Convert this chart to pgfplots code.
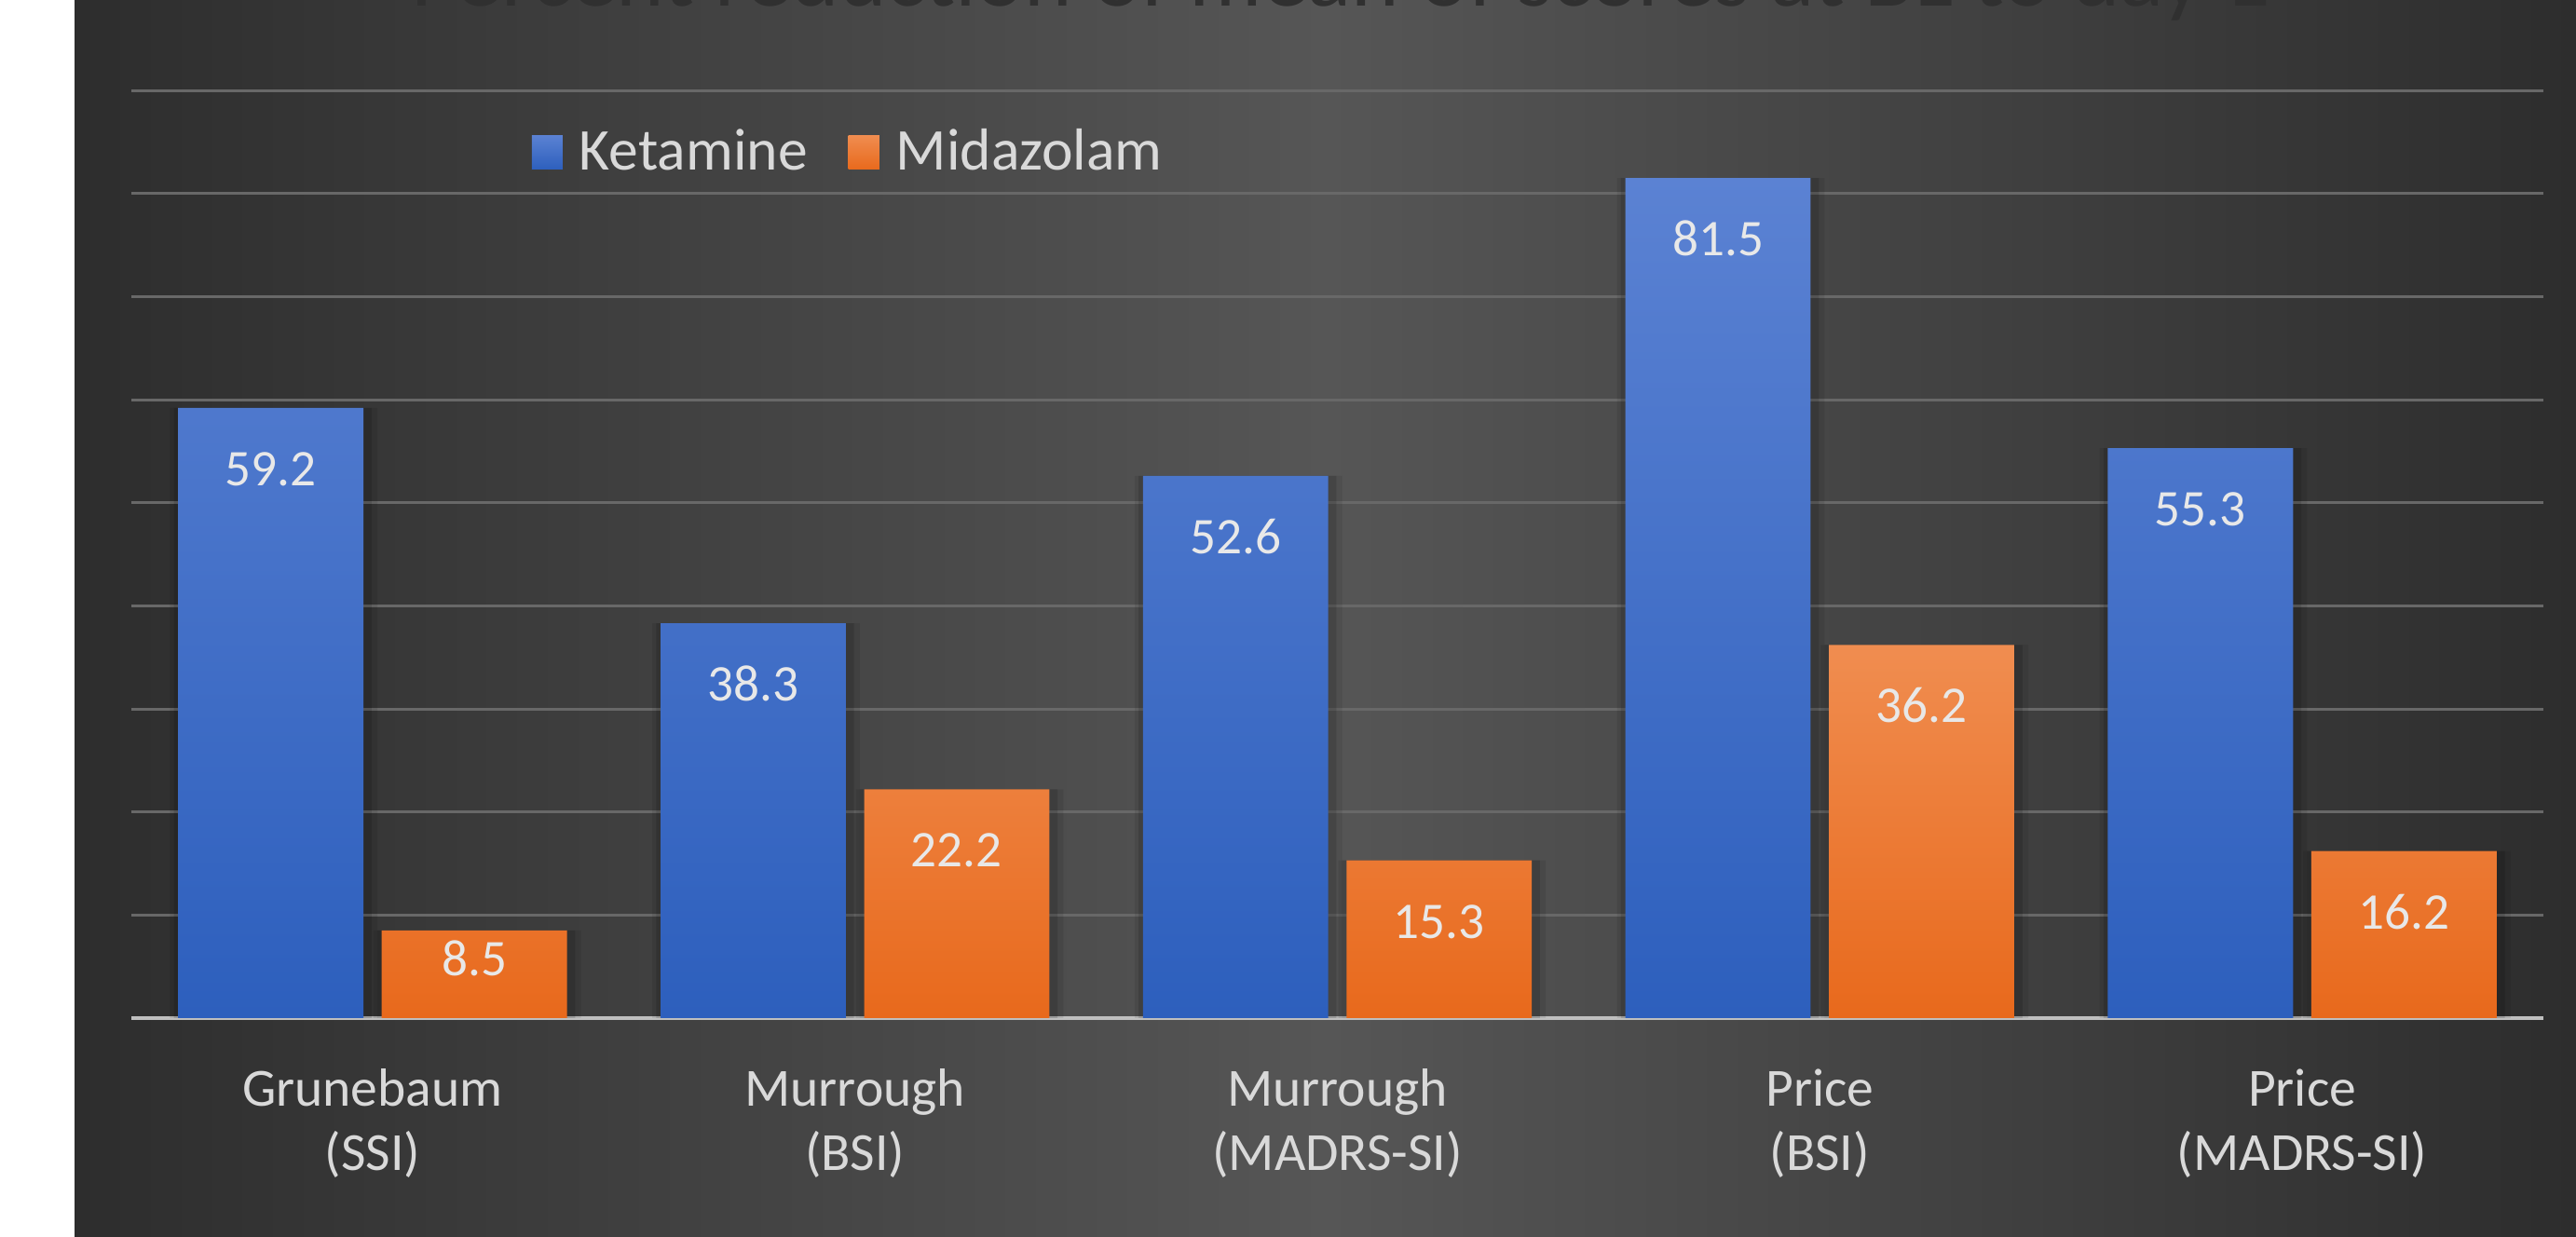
\documentclass[border=0pt]{standalone}
\usepackage{pgfplots}
\usepackage{pgfplotstable}
\pgfplotsset{compat=1.18}
\usepackage{fontspec}
\setmainfont{Carlito}

\definecolor{bgout}{HTML}{2D2D2D}
\definecolor{bgin}{HTML}{565656}
\definecolor{blueT}{HTML}{5B82D3}
\definecolor{blueB}{HTML}{2D5FBD}
\definecolor{orT}{HTML}{F08D50}
\definecolor{orB}{HTML}{E8691C}
\definecolor{gridc}{HTML}{686868}
\definecolor{axisc}{HTML}{BFBFBF}
\definecolor{txt}{HTML}{D9D9D9}
\definecolor{lbl}{HTML}{E8E8E8}
\definecolor{tshadow}{HTML}{303030}

\pgfplotstableread{
x y off
0 59.2 20.9
1 38.3 20.9
2 52.6 20.9
3 81.5 20.9
4 55.3 20.9
}\ketamine
\pgfplotstableread{
x y off
0 8.5 12.25
1 22.2 20.9
2 15.3 20.9
3 36.2 20.9
4 16.2 20.9
}\midazolam

\begin{document}
\begin{tikzpicture}[x=1pt,y=1pt]
\clip (0,0) rectangle (691.25,332);
\fill[white] (0,0) rectangle (20,332);
\shade[left color=bgout, right color=bgout, middle color=bgin] (20,0) rectangle (691.25,332);
% title (cut by the top edge)
\node[overlay, anchor=base, inner sep=0pt, font=\fontsize{24.5}{29}\selectfont, text=tshadow] at (359.8,330.3) {Percent reduction of mean of scores at BL to day 1};
\node[overlay, anchor=base, inner sep=0pt, font=\fontsize{24.5}{29}\selectfont, text=white] at (359.3,336) {Percent reduction of mean of scores at BL to day 1};
\begin{axis}[
  at={(99.975pt,58.75pt)}, anchor=origin,
  scale only axis, width=647.25pt, height=249pt,
  xmin=-0.5, xmax=4.5, ymin=0, ymax=90,
  clip=false,
  axis line style={draw=none},
  major tick length=0pt,
  xtick={0,1,2,3,4},
  xticklabels={{\strut Grunebaum\\(SSI)},{\strut Murrough\\(BSI)},{\strut Murrough\\(MADRS-SI)},{\strut Price\\(BSI)},{\strut Price\\(MADRS-SI)}},
  xticklabel style={align=center, font=\fontsize{14.4}{17.25}\selectfont, text=txt, inner sep=0pt, anchor=north, yshift=-11.4pt},
  ytick={10,20,...,90}, yticklabels={},
  ymajorgrids, grid style={color=gridc, line width=0.75pt},
  extra y ticks={0}, extra y tick labels={},
  extra y tick style={grid style={color=axisc, line width=1.2pt}},
  /pgf/number format/assume math mode=true,
  /pgf/number format/fixed, /pgf/number format/precision=1, /pgf/number format/fixed zerofill,
  legend style={at={(0.1657,0.9332)}, anchor=west, draw=none, fill=none, text=txt,
    font=\fontsize{15.9}{19}\selectfont, legend columns=-1, inner xsep=0pt, inner ysep=0pt,
    nodes={inner sep=0pt}, /tikz/every even column/.append style={column sep=11pt}},
  legend cell align=left,
  nodes near coords style={font=\fontsize{13.8}{16}\selectfont, text=lbl, anchor=base, inner sep=0pt, yshift=-\off pt},
  visualization depends on={\thisrow{off} \as \off},
]
% soft shadows behind the bars
\addplot[forget plot, ybar, bar width=0.43, bar shift=-0.205, draw=none, fill=black, fill opacity=0.08] table[x=x, y=y] {\ketamine};
\addplot[forget plot, ybar, bar width=0.41, bar shift=-0.207, draw=none, fill=black, fill opacity=0.12] table[x=x, y=y] {\ketamine};
\addplot[forget plot, ybar, bar width=0.43, bar shift=0.217, draw=none, fill=black, fill opacity=0.08] table[x=x, y=y] {\midazolam};
\addplot[forget plot, ybar, bar width=0.41, bar shift=0.215, draw=none, fill=black, fill opacity=0.12] table[x=x, y=y] {\midazolam};
% bars
\addplot[ybar, bar width=0.384, bar shift=-0.211, draw=none, top color=blueT, bottom color=blueB,
  nodes near coords, every node near coord/.append style={xshift=-27.3pt},
  legend image code/.code={\fill[top color=blueT, bottom color=blueB, draw=none] (0pt,-4.6pt) rectangle (8.3pt,4.6pt); \path (12.8pt,0pt);}]
  table[x=x, y=y] {\ketamine};
\addlegendentry{Ketamine}
\addplot[ybar, bar width=0.384, bar shift=0.211, draw=none, top color=orT, bottom color=orB,
  nodes near coords, every node near coord/.append style={xshift=27.3pt},
  legend image code/.code={\fill[top color=orT, bottom color=orB, draw=none] (0pt,-4.6pt) rectangle (8.3pt,4.6pt); \path (12.8pt,0pt);}]
  table[x=x, y=y] {\midazolam};
\addlegendentry{Midazolam}
\end{axis}
\end{tikzpicture}
\end{document}
